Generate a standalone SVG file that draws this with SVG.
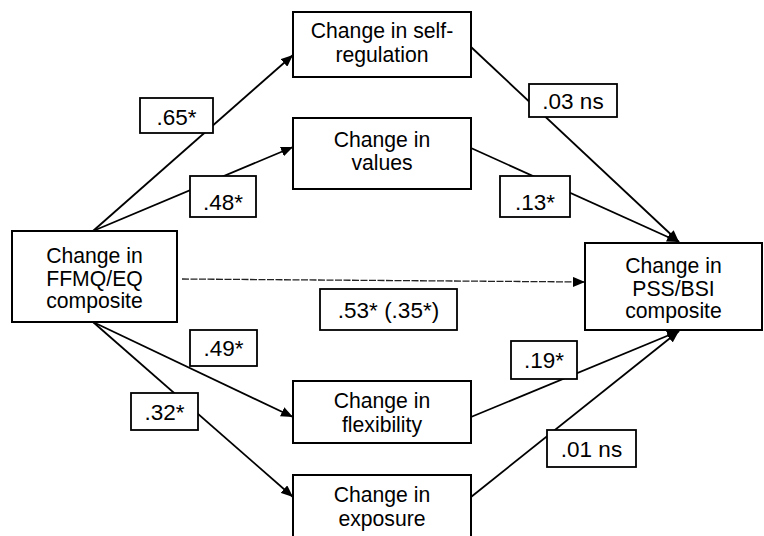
<svg xmlns="http://www.w3.org/2000/svg" width="764" height="536" viewBox="0 0 764 536">
<style>
  .node rect { fill: #fff; stroke: #000; stroke-width: 2; }
  .lbl rect { fill: #fff; stroke: #000; stroke-width: 1.8; }
  text { font-family: "Liberation Sans", Arial, sans-serif; font-size: 21.2px; fill: #000; text-anchor: middle; }
  .lbl text { font-size: 22.5px; }
  .edge { stroke: #000; stroke-width: 1.8; fill: none; marker-end: url(#ah); }
  .dash { stroke: #222; stroke-width: 1.3; fill: none; stroke-dasharray: 7 1.5; marker-end: url(#ah); }
</style>
<defs>
  <marker id="ah" viewBox="0 0 12 10" refX="12" refY="5" markerWidth="12" markerHeight="10" markerUnits="userSpaceOnUse" orient="auto">
    <path d="M0,0 L12,5 L0,10 z" fill="#000"/>
  </marker>
</defs>
<rect width="764" height="536" fill="#fff"/>
<g id="connectors">
  <line class="edge" x1="93" y1="231" x2="293" y2="55"/>
  <line class="edge" x1="93" y1="231" x2="293" y2="147"/>
  <line class="edge" x1="93" y1="322" x2="293" y2="417"/>
  <line class="edge" x1="93" y1="322" x2="293" y2="497"/>
  <line class="edge" x1="471" y1="47" x2="679" y2="242"/>
  <line class="edge" x1="471" y1="148" x2="679" y2="242"/>
  <line class="edge" x1="471" y1="417" x2="679" y2="331"/>
  <line class="edge" x1="471" y1="497" x2="679" y2="331"/>
  <line class="dash" x1="182" y1="279" x2="585" y2="282"/>
</g>
<g id="n-ffmq" class="node">
  <rect x="12" y="231" width="165" height="91"/>
  <text x="94.5" y="263">Change in</text>
  <text x="94.5" y="286">FFMQ/EQ</text>
  <text x="94.5" y="308">composite</text>
</g>
<g id="n-selfreg" class="node">
  <rect x="293" y="12" width="178" height="65"/>
  <text x="382" y="38">Change in self-</text>
  <text x="382" y="62">regulation</text>
</g>
<g id="n-values" class="node">
  <rect x="293" y="118" width="178" height="71"/>
  <text x="382" y="147">Change in</text>
  <text x="382" y="170">values</text>
</g>
<g id="n-flex" class="node">
  <rect x="293" y="381" width="178" height="62"/>
  <text x="382" y="408">Change in</text>
  <text x="382" y="432">flexibility</text>
</g>
<g id="n-exposure" class="node">
  <rect x="293" y="475" width="178" height="70"/>
  <text x="382" y="502">Change in</text>
  <text x="382" y="526">exposure</text>
</g>
<g id="n-pss" class="node">
  <rect x="585" y="243" width="177" height="87"/>
  <text x="673.5" y="273">Change in</text>
  <text x="673.5" y="296">PSS/BSI</text>
  <text x="673.5" y="318">composite</text>
</g>
<g id="labels" class="lbl">
  <rect x="140" y="98" width="73" height="35"/>
  <text x="176.5" y="125">.65*</text>
  <rect x="190" y="176" width="66" height="41"/>
  <text x="223" y="210">.48*</text>
  <rect x="529" y="84" width="88" height="33"/>
  <text x="573" y="109">.03 ns</text>
  <rect x="500" y="176" width="70" height="41"/>
  <text x="535" y="210">.13*</text>
  <rect x="320" y="289" width="137" height="41"/>
  <text x="388.5" y="318">.53* (.35*)</text>
  <rect x="190" y="330" width="67" height="36"/>
  <text x="223.5" y="356">.49*</text>
  <rect x="131" y="393" width="67" height="37"/>
  <text x="164.5" y="420">.32*</text>
  <rect x="511" y="341" width="66" height="38"/>
  <text x="544" y="368">.19*</text>
  <rect x="547" y="430" width="89" height="37"/>
  <text x="591.5" y="457">.01 ns</text>
</g>
</svg>
